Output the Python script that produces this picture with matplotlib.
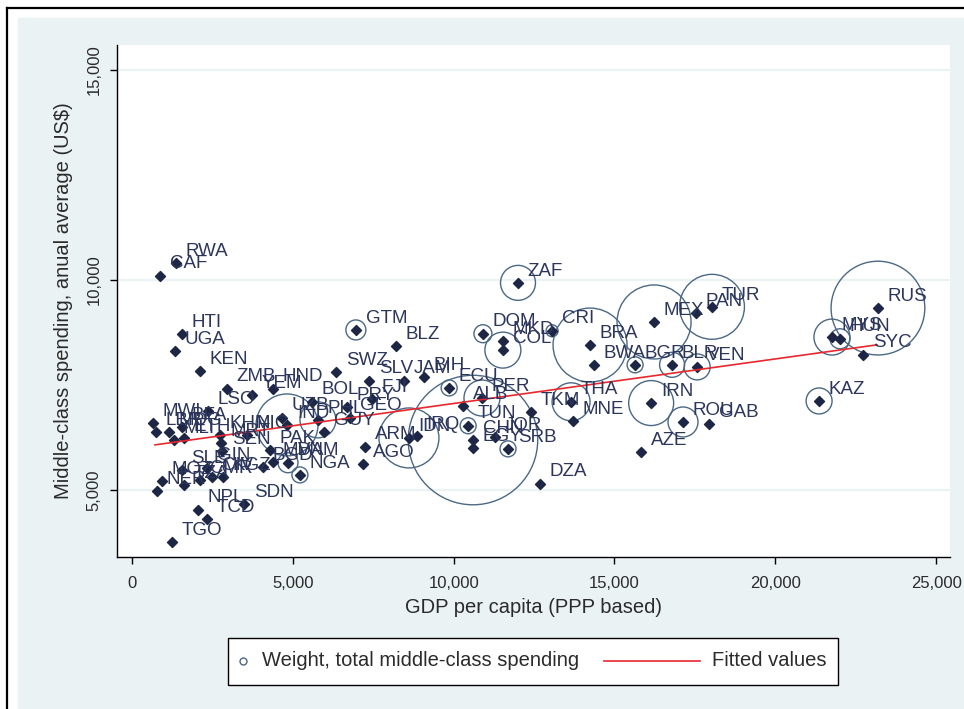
import matplotlib
matplotlib.use("Agg")
import matplotlib.pyplot as plt
from matplotlib.lines import Line2D
from matplotlib.patches import Rectangle

# country codes, GDP per capita (PPP), middle-class spending, weight (total spending)
iso = ["RWA", "CAF", "HTI", "UGA", "KEN", "ZMB", "HND", "YEM", "LSO",
       "MWI", "LBR", "MDG", "BFA", "MLI", "ETH", "KHM", "MRT", "SEN", "NIC",
       "PAK", "IND", "PHL", "VNM", "MDA", "SLE", "CMR", "GIN", "CIV", "KGZ",
       "TZA", "BGD",
       "MOZ", "NER", "SDN", "NPL", "TCD", "TGO",
       "GTM", "BLZ", "SWZ", "SLV", "JAM", "BIH", "FJI", "PRY", "BOL", "GEO",
       "UZB", "GUY", "ARM", "AGO", "NGA", "IDN", "IRQ",
       "ECU", "ALB", "PER", "TUN", "CHN", "EGY", "JOR", "SRB",
       "ZAF", "DOM", "MKD", "COL", "CRI", "BRA", "BWA", "BGR", "MEX",
       "PAN", "TUR", "BLR", "VEN", "THA", "TKM", "MNE", "IRN", "AZE",
       "ROU", "GAB", "DZA", "KAZ", "SYC", "RUS", "MYS", "HUN"]
gdp = [1370, 870, 1550, 1340, 2110, 2950, 4380, 3730, 2360,
       650, 750, 1150, 1550, 1310, 1620, 2740, 2770, 2800, 3580,
       4290, 4820, 5780, 4850, 4380, 1550, 2110, 2330, 2490, 2830,
       1620, 4070,
       930, 780, 3480, 2050, 2330, 1240,
       6960, 8210, 6340, 7370, 8460, 9080, 7460, 6680, 5600, 6780,
       4660, 5970, 7240, 7180, 5220, 8610, 8860,
       9860, 10290, 10880, 10450, 10600, 10600, 11290, 11690,
       12000, 10910, 11530, 11530, 13060, 14240, 14360, 15640, 16230,
       17530, 18030, 16790, 17570, 13650, 12400, 13710, 16140, 15830,
       17130, 17940, 12690, 21360, 22730, 23190, 21760, 22010]
spend = [10400, 10100, 8710, 8310, 7830, 7410, 7410, 7260, 6880,
         6600, 6380, 6380, 6500, 6190, 6240, 6310, 6120, 5930, 6310,
         5950, 6550, 6670, 5650, 5670, 5480, 5240, 5530, 5310, 5310,
         5120, 5550,
         5220, 4980, 4670, 4530, 4310, 3760,
         8810, 8430, 7810, 7600, 7600, 7690, 7170, 6980, 7100, 6720,
         6720, 6380, 6030, 5620, 5360, 6240, 6290,
         7430, 7000, 7190, 6530, 6190, 6000, 6260, 5980,
         9930, 8720, 8550, 8330, 8790, 8450, 7980, 7980, 9000,
         9210, 9360, 7980, 7930, 7100, 6860, 6640, 7070, 5910,
         6620, 6570, 5150, 7120, 8220, 9330, 8640, 8600]
weight = [6, 6, 6, 6, 6, 6, 6, 6, 6,
          6, 6, 6, 6, 6, 6, 6, 6, 6, 6,
          6, 960, 324, 100, 6, 6, 6, 6, 6, 6,
          6, 6,
          6, 6, 6, 6, 6, 6,
          100, 6, 6, 6, 6, 6, 6, 6, 6, 6,
          6, 6, 6, 6, 64, 900, 6,
          64, 6, 324, 64, 4200, 6, 6, 64,
          306, 81, 6, 324, 36, 1370, 6, 64, 1370,
          6, 1056, 156, 169, 361, 6, 6, 506, 6,
          225, 6, 6, 169, 6, 2200, 324, 100]

fit_x = [715, 23160]
fit_y = [6075, 8455]

legend_labels = ["Weight, total middle-class spending", "Fitted values"]

W, H = 964, 709
fig = plt.figure(figsize=(W / 100, H / 100), dpi=100)
fig.patch.set_facecolor("white")
fig.add_artist(Rectangle((18 / W, 0), 1 - 18 / W, 1 - 18 / H,
                         transform=fig.transFigure, color="#eaf2f3", zorder=0))
fig.add_artist(Line2D([7 / W, 1], [1 - 8 / H, 1 - 8 / H], color="black", lw=1.6,
                      transform=fig.transFigure))
fig.add_artist(Line2D([7 / W, 7 / W], [0, 1 - 8 / H], color="black", lw=1.6,
                      transform=fig.transFigure))

ax = fig.add_axes([117 / W, 1 - 557 / H, (950 - 117) / W, (557 - 45) / H])
ax.set_facecolor("white")
ax.set_xlim(-466, 25430)
ax.set_ylim(3407, 15590)

font = ["Liberation Sans", "DejaVu Sans"]
txt = "#2b2b2b"
circ = "#4b6885"
red = "#e8282e"

for y in [5000, 10000, 15000]:
    ax.axhline(y, color="#eaf2f3", lw=1.6, zorder=0)

ax.scatter(gdp, spend, s=[w * 2.07 for w in weight], facecolors="none",
           edgecolors=circ, linewidths=1.0, zorder=2)
ax.scatter(gdp, spend, marker="D", s=26, color="#1d2745", zorder=3)
for name, x, y in zip(iso, gdp, spend):
    ax.annotate(name, (x, y), xytext=(7, 8.5), textcoords="offset points",
                ha="left", va="center", fontsize=13.5, color="#2c355c",
                family=font, zorder=4)
ax.plot(fit_x, fit_y, color=red, lw=1.2, zorder=3)

for s in ["top", "right"]:
    ax.spines[s].set_visible(False)
for s in ["left", "bottom"]:
    ax.spines[s].set_color("black")
    ax.spines[s].set_linewidth(1.0)

ax.set_xticks(range(0, 25001, 5000))
ax.set_xticklabels(["{:,}".format(v) for v in range(0, 25001, 5000)],
                   family=font, fontsize=12, color=txt)
ax.set_yticks([5000, 10000, 15000])
ax.set_yticklabels(["5,000", "10,000", "15,000"], rotation=90, va="center",
                   family=font, fontsize=12, color=txt)
ax.tick_params(direction="out", length=5, width=1, color="black")
ax.tick_params(axis="x", pad=9)
ax.tick_params(axis="y", pad=6)

ax.set_xlabel("GDP per capita (PPP based)", family=font, fontsize=14.5,
              color=txt, labelpad=5)
ax.set_ylabel("Middle-class spending, anual average (US$)", family=font,
              fontsize=14.5, color=txt, labelpad=10)

# legend box drawn by hand (short marker key, long line key)
def fx(px):
    return px / W


def fy(py):
    return 1 - py / H


fig.add_artist(Rectangle((fx(228), fy(685)), 610 / W, 47 / H,
                         transform=fig.transFigure, facecolor="white",
                         edgecolor="black", lw=1.0, zorder=5))
fig.add_artist(Line2D([fx(243)], [fy(661)], marker="o", ls="none", mfc="none",
                      mec=circ, ms=5, mew=1.0, transform=fig.transFigure,
                      zorder=6))
fig.text(fx(262), fy(661), legend_labels[0], ha="left", va="center",
         family=font, fontsize=14.5, color=txt, zorder=6)
fig.add_artist(Line2D([fx(604), fx(700)], [fy(661), fy(661)], color=red,
                      lw=1.2, transform=fig.transFigure, zorder=6))
fig.text(fx(712), fy(661), legend_labels[1], ha="left", va="center",
         family=font, fontsize=14.5, color=txt, zorder=6)

fig.savefig("out.png", dpi=100)
